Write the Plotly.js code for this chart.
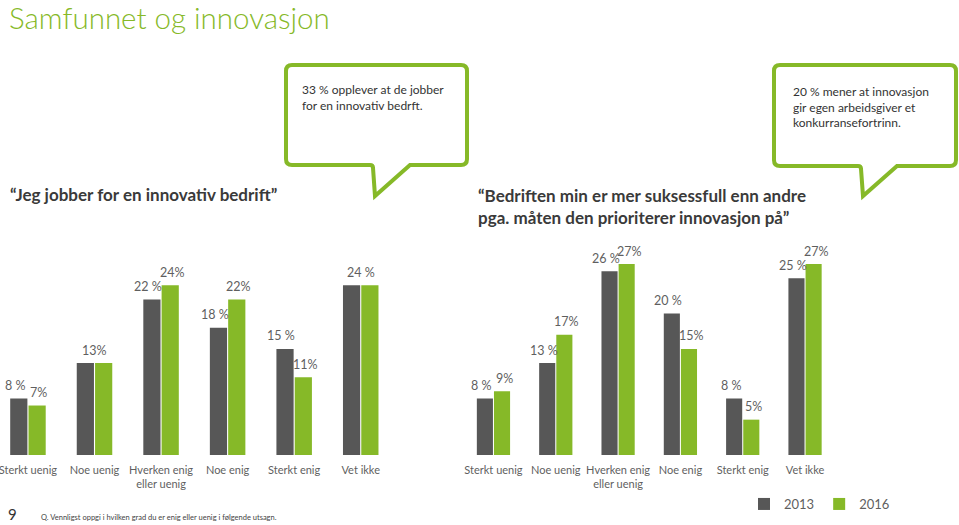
<!DOCTYPE html>
<html>
<head>
<meta charset="utf-8">
<script src="https://cdn.plot.ly/plotly-3.0.1.min.js"></script>
<style>html,body{margin:0;padding:0;background:#fff;}#chart{width:959px;height:525px;}</style>
</head>
<body>
<div id="chart"></div>
<script>
// ---- data ----
const categories = ["Sterkt uenig", "Noe uenig", "Hverken enig<br>eller uenig", "Noe enig", "Sterkt enig", "Vet ikke"];
const seriesNames = ["2013", "2016"];
const left2013 = [8, 13, 22, 18, 15, 24];
const left2016 = [7, 13, 24, 22, 11, 24];
const right2013 = [8, 13, 26, 20, 8, 25];
const right2016 = [9, 17, 27, 15, 5, 27];
const leftLabels2013 = ["8 %", "13%", "22 %", "18 %", "15 %", "24 %"];
const leftLabels2016 = ["7%", "", "24%", "22%", "11%", ""];
const rightLabels2013 = ["8 %", "13 %", "26 %", "20 %", "8 %", "25 %"];
const rightLabels2016 = ["9%", "17%", "27%", "15%", "5%", "27%"];
const chartTitle = "Samfunnet og innovasjon";
const leftQuestion = "“Jeg jobber for en innovativ bedrift”";
const rightQuestion = "“Bedriften min er mer suksessfull enn andre<br>pga. måten den prioriterer innovasjon på”";
const bubbleLeft = "33 % opplever at de jobber<br>for en innovativ bedrft.";
const bubbleRight = "20 % mener at innovasjon<br>gir egen arbeidsgiver et<br>konkurransefortrinn.";
const footnote = "Q. Vennligst oppgi i hvilken grad du er enig eller uenig i følgende utsagn.";
const pageNumber = "9";

// ---- styling ----
const W = 959, H = 525;
const DARK = "#575757", GREEN = "#86b928", TXT = "#5f5f5f";
const FONT = "Lato, 'Open Sans', sans-serif";
const px = x => x / W;
const py = y => 1 - y / H;

const traces = [
  {type: "bar", x: categories, y: left2013, name: seriesNames[0], marker: {color: DARK}, xaxis: "x", yaxis: "y", hoverinfo: "none"},
  {type: "bar", x: categories, y: left2016, name: seriesNames[1], marker: {color: GREEN}, xaxis: "x", yaxis: "y", hoverinfo: "none"},
  {type: "bar", x: categories, y: right2013, name: seriesNames[0], marker: {color: DARK}, xaxis: "x2", yaxis: "y2", showlegend: false, hoverinfo: "none"},
  {type: "bar", x: categories, y: right2016, name: seriesNames[1], marker: {color: GREEN}, xaxis: "x2", yaxis: "y2", showlegend: false, hoverinfo: "none"}
];

const annotations = [];
function addLabels(xref, yref, v13, v16, l13, l16, s13, s16) {
  categories.forEach((c, i) => {
    const single = l16[i] === "";
    annotations.push({xref, yref, x: c, y: v13[i], text: l13[i], showarrow: false,
      xshift: single ? 0 : s13, yshift: 13, yanchor: "middle", font: {family: FONT, size: 12.5, color: TXT}});
    if (!single) annotations.push({xref, yref, x: c, y: v16[i], text: l16[i], showarrow: false,
      xshift: s16, yshift: 13, yanchor: "middle", font: {family: FONT, size: 12.5, color: TXT}});
  });
}
addLabels("x", "y", left2013, left2016, leftLabels2013, leftLabels2016, -13, 11);
addLabels("x2", "y2", right2013, right2016, rightLabels2013, rightLabels2016, -12, 11);

annotations.push(
  {xref: "paper", yref: "paper", x: px(7), y: py(18), xanchor: "left", yanchor: "middle", showarrow: false,
   text: chartTitle, font: {family: FONT, size: 29.5, color: GREEN, weight: 300}},
  {xref: "paper", yref: "paper", x: px(8), y: py(194), xanchor: "left", yanchor: "middle", showarrow: false,
   text: "<b>" + leftQuestion + "</b>", font: {family: FONT, size: 17, color: "#3a3a3a"}},
  {xref: "paper", yref: "paper", x: px(476), y: py(206), xanchor: "left", yanchor: "middle", align: "left", showarrow: false,
   text: "<b>" + rightQuestion.replace("<br>", "</b><br><b>") + "</b>", font: {family: FONT, size: 17, color: "#3a3a3a"}},
  {xref: "paper", yref: "paper", x: px(300), y: py(98), xanchor: "left", yanchor: "middle", align: "left", showarrow: false,
   text: bubbleLeft, font: {family: FONT, size: 12, color: "#333"}},
  {xref: "paper", yref: "paper", x: px(791), y: py(107), xanchor: "left", yanchor: "middle", align: "left", showarrow: false,
   text: bubbleRight, font: {family: FONT, size: 12, color: "#333"}},
  {xref: "paper", yref: "paper", x: px(6), y: py(514), xanchor: "left", yanchor: "middle", showarrow: false,
   text: pageNumber, font: {family: FONT, size: 15, color: "#333"}},
  {xref: "paper", yref: "paper", x: px(39), y: py(517), xanchor: "left", yanchor: "middle", showarrow: false,
   text: footnote, font: {family: FONT, size: 7.5, color: "#444"}}
);

function bubble(x0, y0, x1, y1, tl, tr, tipY) {
  const r = 6;
  const P = (x, y) => px(x).toFixed(5) + "," + py(y).toFixed(5);
  return "M" + P(x0 + r, y0) + " L" + P(x1 - r, y0) + " Q" + P(x1, y0) + " " + P(x1, y0 + r) +
    " L" + P(x1, y1 - r) + " Q" + P(x1, y1) + " " + P(x1 - r, y1) +
    " L" + P(tr, y1) + " L" + P(tl + 2, tipY) + " L" + P(tl, y1 + 3) + " Q" + P(tl, y1) + " " + P(tl - 3, y1) +
    " L" + P(x0 + r, y1) + " Q" + P(x0, y1) + " " + P(x0, y1 - r) +
    " L" + P(x0, y0 + r) + " Q" + P(x0, y0) + " " + P(x0 + r, y0) + " Z";
}
const shapes = [
  {type: "path", xref: "paper", yref: "paper", path: bubble(286, 65, 467, 165, 373, 410, 196), line: {color: GREEN, width: 4}},
  {type: "path", xref: "paper", yref: "paper", path: bubble(774, 65, 956, 166, 861, 897, 196), line: {color: GREEN, width: 4}}
];

const axisFont = {family: FONT, size: 11, color: TXT};
const layout = {
  width: W, height: H,
  margin: {l: 0, r: 0, t: 0, b: 0},
  paper_bgcolor: "#fff", plot_bgcolor: "rgba(0,0,0,0)",
  barmode: "group", bargap: 0.45, bargroupgap: 0.06,
  showlegend: true,
  legend: {orientation: "h", x: px(744), y: py(504), xanchor: "left", yanchor: "middle",
    font: {family: FONT, size: 13, color: TXT}, itemwidth: 30, traceorder: "normal"},
  xaxis: {domain: [0, px(394)], range: [-0.42, 5.5], type: "category", showgrid: false, zeroline: false, showline: false,
    ticks: "", tickangle: 0, tickfont: axisFont, ticklabelstandoff: 7, fixedrange: true},
  xaxis2: {domain: [px(462.3), px(836.2)], range: [-0.5, 5.5], type: "category", anchor: "y2", showgrid: false, zeroline: false, showline: false,
    ticks: "", tickangle: 0, tickfont: axisFont, ticklabelstandoff: 7, fixedrange: true},
  yaxis: {domain: [py(455), py(242.9)], range: [0, 30], visible: false, fixedrange: true},
  yaxis2: {domain: [py(455), py(242.9)], range: [0, 30], visible: false, anchor: "x2", fixedrange: true},
  annotations, shapes
};

Plotly.newPlot("chart", traces, layout, {displayModeBar: false, staticPlot: true});
</script>
</body>
</html>
